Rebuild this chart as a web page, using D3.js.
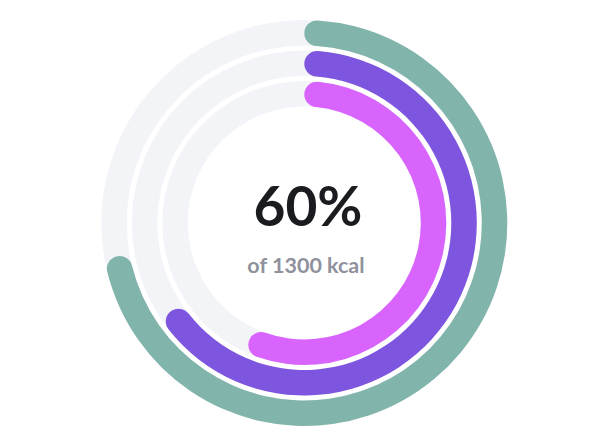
<!DOCTYPE html>
<html>
<head>
<meta charset="utf-8">
<script src="https://cdn.jsdelivr.net/npm/d3@7"></script>
<style>
html,body{margin:0;padding:0;background:#fff;}
svg{display:block;}
</style>
</head>
<body>
<svg id="chart" width="607" height="445"></svg>
<script>
// Data
const series = ["Series A", "Series B", "Series C"];
const values = [72.2, 65.7, 57.0];          // percent of full circle
const colors = ["#81b5ab", "#7e55de", "#d864fd"];
const centerValue = "60%";
const centerLabel = "of 1300 kcal";

const W = 607, H = 445;
const cx = 304.3, cy = 223;
const outerR = 203, bandW = 25.5, gap = 5;

const svg = d3.select("#chart");
const g = svg.append("g").attr("transform", `translate(${cx},${cy})`);

const angle = d3.scaleLinear().domain([0, 100]).range([0, 2 * Math.PI]);

const rings = series.map((s, i) => {
  const r1 = outerR - i * (bandW + gap);
  return { name: s, value: values[i], color: colors[i], outer: r1, inner: r1 - bandW };
});

// tracks
g.selectAll("path.track").data(rings).join("path")
  .attr("class", "track")
  .attr("fill", "#f3f4f8")
  .attr("d", d => d3.arc().innerRadius(d.inner).outerRadius(d.outer)
    .startAngle(0).endAngle(2 * Math.PI)());

// bars
g.selectAll("path.bar").data(rings).join("path")
  .attr("class", "bar")
  .attr("fill", d => d.color)
  .attr("d", d => d3.arc().innerRadius(d.inner).outerRadius(d.outer)
    .cornerRadius(bandW / 2)
    .startAngle(angle(0)).endAngle(angle(d.value))());

// center text
svg.append("text")
  .attr("x", 308).attr("y", 226)
  .attr("text-anchor", "middle")
  .attr("font-family", "Lato, 'Open Sans', sans-serif")
  .attr("font-weight", 700)
  .attr("font-size", 55)
  .attr("fill", "#1b1c20")
  .text(centerValue);

svg.append("text")
  .attr("x", 306).attr("y", 273)
  .attr("text-anchor", "middle")
  .attr("font-family", "Lato, 'Open Sans', sans-serif")
  .attr("font-weight", 700)
  .attr("font-size", 21.5)
  .attr("fill", "#8f919c")
  .text(centerLabel);
</script>
</body>
</html>
